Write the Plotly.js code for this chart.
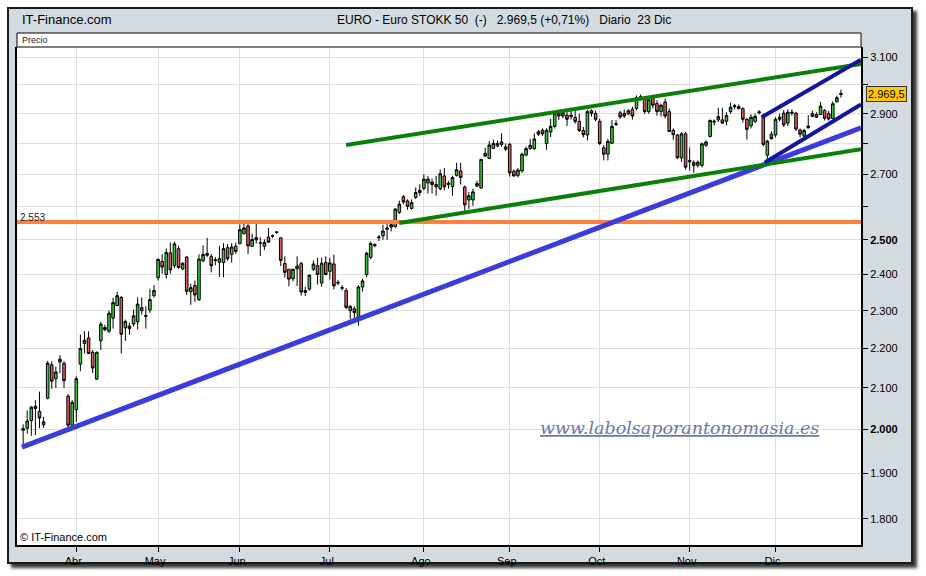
<!DOCTYPE html>
<html>
<head>
<meta charset="utf-8">
<script src="https://cdn.plot.ly/plotly-3.0.1.min.js"></script>
<style>
  html, body { margin: 0; padding: 0; background: #ffffff; }
  #frame {
    position: absolute; left: 7px; top: 7px; width: 906px; height: 557px;
    box-sizing: border-box; background: #d3dbe0; border: 2px solid #1a1a1a;
    box-shadow: 4px 4px 3px #3a3a3a;
  }
  #chart { position: absolute; left: 0; top: 0; width: 926px; height: 576px; }
</style>
</head>
<body>
<div id="frame"></div>
<div id="chart"></div>
<script>
// ---- Daily candles, 13 Mar – 23 Dic (trading days) ----
const open = [1998,2003,2021,2055,2043,2011,2075,2158,2123,2165,2162,2080,2010,
 2047,2160,2213,2227,2190,2122,2220,2249,2245,2280,2314,2336,2254,2259,2264,2270,2300,2287,2302,2341,
 2391,2437,2400,2462,2425,2474,2416,2450,2352,2369,2330,2439,2455,2451,2442,2435,2434,2477,2458,2481,
 2489,2518,2541,2481,2506,2491,2481,2508,2512,2522,2506,2431,2415,2388,2416,2431,2350,2359,2415,2425,2376,2434,
 2409,2430,2378,2363,2355,2300,2305,2282,2365,2400,2449,2486,2506,2512,2535,2538,2539,2582,2630,2617,2594,2628,2650,
 2656,2673,2676,2668,2655,2695,2668,2662,2697,2711,2660,2620,2620,2663,2657,2768,2751,2784,2792,2797,2789,
 2797,2710,2697,2711,2762,2783,2783,2839,2844,2800,2838,2857,2901,2892,2895,2890,2887,2874,2843,2828,2910,2901,
 2874,2786,2765,2801,2866,2903,2901,2899,2915,2918,2956,2955,2907,2955,2935,2907,2940,2907,2844,2828,2753,2832,
 2745,2738,2729,2729,2794,2823,2875,2879,2879,2874,2907,2924,2924,2917,2881,2859,2874,2903,2888,2762,2831,
 2828,2881,2902,2868,2905,2902,2845,2825,2852,2900,2897,2897,2911,2900,2884,2941,2966];
const high = [2012,2045,2056,2070,2091,2030,2168,2167,2154,2183,2167,2085,2070,
 2129,2236,2245,2245,2196,2192,2270,2262,2300,2335,2352,2340,2276,2267,2303,2336,2336,2312,2360,2370,
 2446,2458,2475,2492,2495,2483,2435,2452,2374,2383,2458,2484,2506,2459,2450,2482,2490,2488,2490,2492,
 2546,2549,2550,2518,2547,2508,2501,2535,2516,2525,2507,2452,2416,2416,2452,2436,2365,2400,2440,2448,2448,2452,
 2448,2457,2385,2370,2362,2315,2312,2370,2388,2465,2495,2490,2514,2545,2549,2550,2595,2618,2635,2622,2622,2659,2669,
 2700,2695,2686,2695,2716,2720,2680,2696,2737,2737,2665,2645,2655,2680,2750,2786,2808,2813,2810,2834,2800,
 2802,2716,2720,2770,2790,2815,2834,2845,2850,2850,2882,2906,2911,2910,2912,2914,2915,2900,2855,2913,2915,2911,
 2883,2795,2815,2878,2878,2910,2914,2915,2924,2963,2966,2960,2958,2960,2946,2935,2952,2918,2850,2832,2838,2838,
 2787,2745,2745,2803,2810,2880,2880,2920,2920,2905,2938,2934,2932,2922,2885,2898,2900,2912,2900,2812,2840,
 2888,2900,2912,2915,2915,2905,2850,2849,2895,2910,2905,2940,2916,2910,2942,2962,2983];
const low = [1965,1990,1985,1987,2003,2004,2072,2098,2100,2137,2100,2005,2008,
 2018,2142,2187,2185,2137,2120,2196,2245,2240,2252,2312,2187,2220,2236,2258,2249,2289,2252,2294,2336,
 2383,2402,2388,2402,2418,2416,2412,2343,2316,2324,2327,2435,2450,2406,2426,2393,2392,2439,2434,2459,
 2487,2516,2459,2479,2489,2453,2470,2492,2505,2518,2424,2391,2367,2381,2368,2341,2340,2355,2410,2372,2366,2398,
 2386,2358,2370,2355,2304,2277,2277,2260,2352,2392,2444,2478,2496,2500,2500,2525,2536,2577,2607,2590,2590,2623,2633,
 2650,2640,2640,2633,2650,2650,2655,2633,2693,2668,2585,2592,2602,2660,2655,2755,2749,2781,2788,2789,2775,
 2693,2693,2690,2705,2758,2780,2778,2825,2825,2779,2821,2850,2878,2885,2858,2880,2866,2838,2820,2810,2890,2874,
 2795,2745,2745,2798,2858,2882,2885,2895,2880,2912,2945,2900,2900,2918,2893,2890,2884,2838,2812,2750,2740,2715,
 2712,2705,2722,2722,2789,2820,2860,2872,2865,2860,2900,2915,2915,2870,2813,2850,2868,2898,2790,2731,2813,
 2820,2874,2855,2858,2893,2842,2820,2820,2850,2888,2885,2895,2877,2877,2882,2938,2955];
const close = [2002,2020,2053,2050,2027,2018,2162,2117,2140,2172,2118,2010,2065,
 2123,2200,2221,2187,2150,2190,2264,2255,2293,2322,2341,2237,2271,2252,2286,2318,2308,2285,2330,2355,
 2443,2421,2463,2413,2488,2420,2432,2353,2363,2343,2444,2457,2460,2425,2440,2445,2474,2445,2479,2466,
 2530,2535,2482,2501,2500,2490,2492,2493,2511,2523,2440,2406,2387,2415,2424,2351,2355,2398,2430,2400,2432,2400,
 2433,2368,2376,2362,2309,2312,2295,2365,2382,2461,2489,2483,2508,2526,2532,2545,2592,2607,2614,2600,2612,2643,2643,
 2685,2685,2668,2661,2702,2661,2672,2690,2715,2690,2605,2633,2645,2671,2748,2759,2795,2800,2800,2805,2781,
 2705,2695,2714,2765,2783,2794,2815,2831,2832,2844,2857,2901,2892,2903,2881,2895,2874,2843,2829,2907,2901,2881,
 2800,2765,2807,2857,2864,2889,2892,2910,2892,2955,2958,2907,2948,2929,2907,2929,2892,2840,2829,2753,2832,2723,
 2740,2729,2739,2799,2805,2877,2872,2890,2868,2894,2922,2927,2917,2881,2847,2888,2891,2906,2797,2808,2816,
 2881,2888,2862,2905,2902,2848,2831,2843,2858,2891,2888,2926,2884,2882,2934,2955,2969.5];

// month ticks (trading-day index of first session of each month)
const monthTickIdx = [13, 33, 53, 75, 98, 119, 141, 163, 184];
const monthLabels = ['Abr','May','Jun','Jul','Ago','Sep','Oct','Nov','Dic'];

// price axis ticks
const priceTicks = [1800,1900,2000,2100,2200,2300,2400,2500,2600,2700,2800,2900,3000,3100];
const priceLabels = ['1.800','1.900','<b>2.000</b>','2.100','2.200','2.300','2.400','<b>2.500</b>','','2.700','','2.900','','3.100'];

// drawn trend lines (trading-day index, price)
const blueTrendX = [-0.3, 204.9],  blueTrendY = [1959, 2852];
const greenUpX  = [79, 204.9],     greenUpY  = [2795, 3075];
const greenLowX = [92, 204.9],     greenLowY = [2550, 2781];
const navyUpX   = [180.6, 204.9],  navyUpY   = [2888, 3090];
const navyLowX  = [181.4, 204.9],  navyLowY  = [2738, 2932];
const supportLevel = 2553;
const lastPrice = 2969.5;

const day = open.map((_, i) => i);
const xMin = -1.5, xMax = 204.9;

const NARROW = 'Liberation Sans Narrow, Arial Narrow, Liberation Sans, Arial, sans-serif';
const SANS = 'Liberation Sans, Arial, sans-serif';

function line(x, y, color, width) {
  return {type: 'scatter', mode: 'lines', x: x, y: y, hoverinfo: 'skip', showlegend: false,
          line: {color: color, width: width}};
}

const traces = [
  {
    type: 'candlestick', x: day, open: open, high: high, low: low, close: close,
    increasing: {line: {color: '#000000', width: 1}, fillcolor: '#3cc83c'},
    decreasing: {line: {color: '#000000', width: 1}, fillcolor: '#d9605c'},
    whiskerwidth: 0, hoverinfo: 'skip', showlegend: false
  },
  line([xMin, xMax], [supportLevel, supportLevel], '#ff8040', 4),
  line(blueTrendX, blueTrendY, '#3c3cdc', 5),
  line(greenUpX, greenUpY, '#0a800a', 4),
  line(greenLowX, greenLowY, '#0a800a', 4),
  line(navyUpX, navyUpY, '#1414a0', 4),
  line(navyLowX, navyLowY, '#1414a0', 4)
];

const L = 17, R = 861, T = 47, B = 545;
const px = v => (v - L) / (R - L);
const py = v => (B - v) / (B - T);

const layout = {
  width: 926, height: 576,
  margin: {l: L, r: 926 - R, t: T, b: 576 - B, pad: 0},
  paper_bgcolor: 'rgba(0,0,0,0)', plot_bgcolor: '#ffffff',
  showlegend: false,
  boxgap: 0.1,
  font: {family: SANS, size: 11, color: '#000'},
  xaxis: {
    type: 'linear', range: [xMin, xMax], rangeslider: {visible: false},
    tickmode: 'array', tickvals: monthTickIdx, ticktext: monthLabels,
    showgrid: true, gridcolor: '#dedede', gridwidth: 1, zeroline: false,
    ticks: 'outside', ticklen: 5, tickcolor: '#000', tickwidth: 1,
    showline: true, linecolor: '#000', linewidth: 2,
    ticklabelshift: -3,
    tickfont: {family: NARROW, size: 11, color: '#000'}
  },
  yaxis: {
    type: 'log', side: 'right', range: [3.24198, 3.49647],
    tickmode: 'array', tickvals: priceTicks, ticktext: priceLabels,
    showgrid: true, gridcolor: '#dedede', gridwidth: 1, zeroline: false,
    ticks: 'outside', ticklen: 5, tickcolor: '#000', tickwidth: 1,
    showline: true, mirror: true, linecolor: '#000', linewidth: 2,
    tickfont: {family: SANS, size: 11, color: '#000'}
  },
  shapes: [
    {type: 'rect', xref: 'paper', yref: 'paper', x0: 0, x1: 1, y0: 1, y1: py(33),
     fillcolor: '#ffffff', line: {color: '#000', width: 1}}
  ],
  annotations: [
    {xref: 'paper', yref: 'paper', x: px(20), y: py(20), xanchor: 'left', yanchor: 'middle', showarrow: false,
     text: 'IT-Finance.com', font: {family: NARROW, size: 13, color: '#000'}},
    {xref: 'paper', yref: 'paper', x: px(504), y: py(20), xanchor: 'center', yanchor: 'middle', showarrow: false,
     text: 'EURO - Euro STOKK 50\u00a0\u00a0(-)\u00a0\u00a0\u00a02.969,5 (+0,71%)\u00a0\u00a0\u00a0Diario\u00a0\u00a023 Dic',
     font: {family: NARROW, size: 12, color: '#000'}},
    {xref: 'paper', yref: 'paper', x: px(20), y: py(40), xanchor: 'left', yanchor: 'middle', showarrow: false,
     text: 'Precio', font: {family: SANS, size: 9, color: '#222'}},
    {xref: 'paper', yref: 'paper', x: px(18), y: py(217), xanchor: 'left', yanchor: 'middle', showarrow: false,
     text: '2.553', font: {family: SANS, size: 10, color: '#222'}},
    {xref: 'paper', yref: 'paper', x: px(18), y: py(537), xanchor: 'left', yanchor: 'middle', showarrow: false,
     text: '© IT-Finance.com', font: {family: NARROW, size: 11, color: '#000'}},
    {xref: 'paper', yref: 'y', x: px(866), y: Math.log10(lastPrice), xanchor: 'left', yanchor: 'middle', showarrow: false,
     text: '2.969,5', bgcolor: '#ffc800', bordercolor: '#333', borderwidth: 1, borderpad: 1,
     font: {family: SANS, size: 11, color: '#000'}},
    {xref: 'paper', yref: 'paper', x: px(679), y: py(428), xanchor: 'center', yanchor: 'middle', showarrow: false,
     text: '<span style="text-decoration:underline">www.labolsaporantonomasia.es</span>',
     font: {family: 'DejaVu Serif, Liberation Serif, serif', size: 17.5, color: '#6a78a8', style: 'italic'}}
  ]
};

Plotly.newPlot('chart', traces, layout, {displayModeBar: false, staticPlot: true});
</script>
</body>
</html>
